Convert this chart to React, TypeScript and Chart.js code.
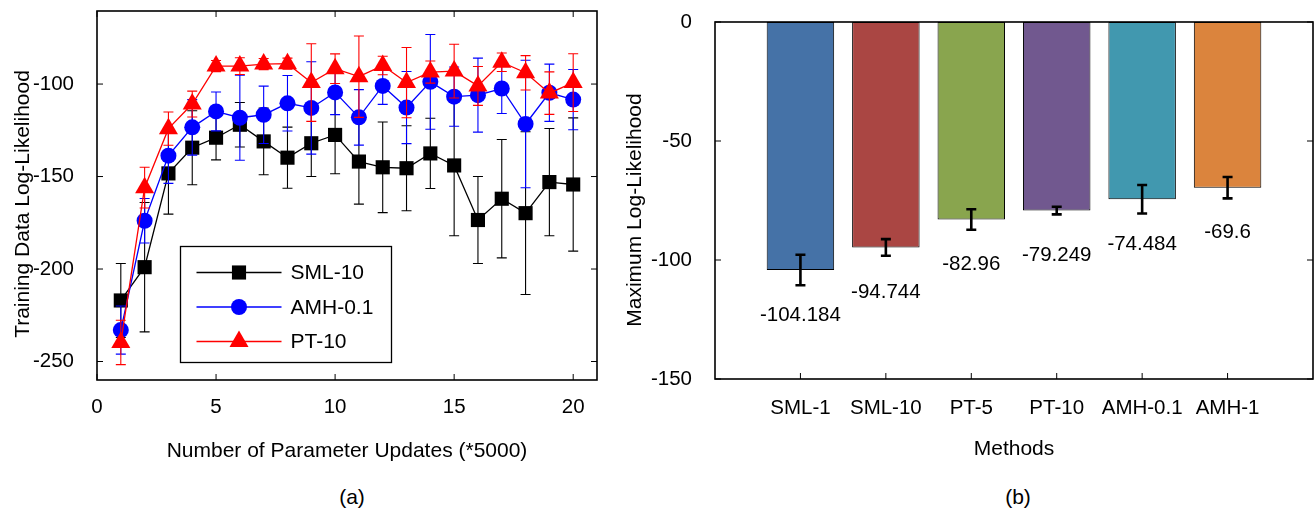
import React, { useEffect, useRef } from 'react';
import { Chart, registerables } from 'chart.js';

Chart.register(...registerables);

const FONT_FAMILY = '"Liberation Sans", Arial, Helvetica, sans-serif';
const TITLE_SIZE = 21;
const TICK_SIZE = 20.5;

// ---------- Panel (a) data ----------
const STEPS = [1, 2, 3, 4, 5, 6, 7, 8, 9, 10, 11, 12, 13, 14, 15, 16, 17, 18, 19, 20];
const SML10 = [-217, -199, -148.3, -134.4, -129, -122, -131, -139.8, -132, -127.5, -141.9, -145, -145.5, -137.5, -144, -173.5, -162, -169.8, -153, -154.3];
const SML10_ERR = [20, 35, 22, 20, 12, 12, 18, 16.5, 18, 21, 23, 24.5, 23, 19, 38, 23.5, 32, 44, 29, 36];
const AMH01 = [-233, -173.9, -138.7, -123.4, -114.8, -118.2, -116.6, -110.4, -112.9, -104.5, -118, -101, -112.7, -98.8, -106.8, -106, -102.4, -121.6, -104.7, -108.4];
const AMH01_ERR = [13, 12, 15, 15, 10.5, 23, 15.5, 15, 25, 12, 15, 10, 19.5, 25.6, 16, 20, 13.5, 34.5, 15.5, 16.3];
const PT10 = [-239.7, -156, -124.1, -110.8, -90.3, -90.3, -89.2, -89, -99.2, -91.7, -96, -90, -99.2, -93.5, -93, -101, -88.2, -93.9, -104.9, -99.2];
const PT10_ERR = [12, 11, 9, 7, 3, 4.5, 3, 3, 21, 8, 22, 5, 19, 6, 14.5, 10.5, 5, 9.3, 11.5, 15.6];
const A_X_TICKS = [0, 5, 10, 15, 20];
const A_Y_TICKS = [-250, -200, -150, -100];

// ---------- Panel (b) data ----------
const METHODS = ['SML-1', 'SML-10', 'PT-5', 'PT-10', 'AMH-0.1', 'AMH-1'];
const METHOD_POS = [1, 2, 3, 4, 5, 6];
const MAX_LL = [-104.184, -94.744, -82.96, -79.249, -74.484, -69.6];
const MAX_LL_ERR = [6.4, 3.5, 4.3, 1.6, 6, 4.5];
const BAR_COLORS = ['#4572A7', '#AA4643', '#89A54E', '#71588F', '#4198AF', '#DB843D'];
const B_Y_TICKS = [0, -50, -100, -150];

function font(size: number) {
  return { family: FONT_FAMILY, size, weight: 'normal' as const };
}

function drawMarker(ctx: CanvasRenderingContext2D, style: string, x: number, y: number, r: number, color: string) {
  ctx.fillStyle = color;
  ctx.beginPath();
  if (style === 'rect') {
    const s = r * Math.SQRT1_2;
    ctx.rect(x - s, y - s, 2 * s, 2 * s);
  } else if (style === 'triangle') {
    let a = 0;
    ctx.moveTo(x + Math.sin(a) * r, y - Math.cos(a) * r);
    a += (2 * Math.PI) / 3;
    ctx.lineTo(x + Math.sin(a) * r, y - Math.cos(a) * r);
    a += (2 * Math.PI) / 3;
    ctx.lineTo(x + Math.sin(a) * r, y - Math.cos(a) * r);
    ctx.closePath();
  } else {
    ctx.arc(x, y, r, 0, Math.PI * 2);
  }
  ctx.fill();
}

// Frame with inward ticks (gnuplot style)
const framePlugin = {
  id: 'frame',
  afterDraw(chart: any, _args: any, opts: any) {
    const { ctx, chartArea: a, scales } = chart;
    const L = 6;
    ctx.save();
    ctx.strokeStyle = '#000';
    ctx.lineWidth = 1;
    ctx.beginPath();
    for (const v of opts.xTicks || []) {
      const px = scales.x.getPixelForValue(v);
      ctx.moveTo(px, a.bottom);
      ctx.lineTo(px, a.bottom - L);
      if (opts.mirrorX) {
        ctx.moveTo(px, a.top);
        ctx.lineTo(px, a.top + L);
      }
    }
    for (const v of opts.yTicks || []) {
      const py = scales.y.getPixelForValue(v);
      ctx.moveTo(a.left, py);
      ctx.lineTo(a.left + L, py);
      if (opts.mirrorY) {
        ctx.moveTo(a.right, py);
        ctx.lineTo(a.right - L, py);
      }
    }
    ctx.stroke();
    ctx.lineWidth = 1.6;
    ctx.strokeRect(a.left, a.top, a.right - a.left, a.bottom - a.top);
    ctx.restore();
  },
};

function drawErrors(chart: any, index: number, meta: any, opts: any) {
  const ds = chart.data.datasets[index];
  const errs: number[] | undefined = ds.errors;
  if (!errs) return;
  const { ctx } = chart;
  const yScale = chart.scales.y;
  ctx.save();
  ctx.strokeStyle = opts.color || ds.borderColor;
  ctx.lineWidth = opts.lineWidth;
  const cap = opts.cap;
  meta.data.forEach((el: any, i: number) => {
    const v = ds.data[i].y;
    const top = yScale.getPixelForValue(v + errs[i]);
    const bot = yScale.getPixelForValue(v - errs[i]);
    const x = el.x;
    ctx.beginPath();
    ctx.moveTo(x, top);
    ctx.lineTo(x, bot);
    ctx.moveTo(x - cap, top);
    ctx.lineTo(x + cap, top);
    ctx.moveTo(x - cap, bot);
    ctx.lineTo(x + cap, bot);
    ctx.stroke();
  });
  ctx.restore();
}

const errorBarPlugin = {
  id: 'errorBars',
  beforeDatasetDraw(chart: any, args: any, opts: any) {
    if (!opts.above) drawErrors(chart, args.index, args.meta, opts);
  },
  afterDatasetDraw(chart: any, args: any, opts: any) {
    if (opts.above) drawErrors(chart, args.index, args.meta, opts);
  },
};

const boxLegendPlugin = {
  id: 'boxLegend',
  afterDraw(chart: any, _args: any, opts: any) {
    const { ctx } = chart;
    ctx.save();
    ctx.strokeStyle = '#000';
    ctx.lineWidth = 1.3;
    ctx.fillStyle = '#fff';
    ctx.fillRect(opts.x, opts.y, opts.w, opts.h);
    ctx.strokeRect(opts.x, opts.y, opts.w, opts.h);
    ctx.font = `${TITLE_SIZE}px ${FONT_FAMILY}`;
    ctx.textBaseline = 'middle';
    ctx.textAlign = 'left';
    chart.data.datasets.forEach((ds: any, i: number) => {
      const y = opts.y + opts.firstRow + i * opts.rowGap;
      ctx.strokeStyle = ds.borderColor;
      ctx.lineWidth = ds.borderWidth;
      ctx.beginPath();
      ctx.moveTo(opts.x + opts.lineStart, y);
      ctx.lineTo(opts.x + opts.lineEnd, y);
      ctx.stroke();
      drawMarker(ctx, ds.pointStyle, opts.x + (opts.lineStart + opts.lineEnd) / 2, y, ds.pointRadius, ds.borderColor);
      ctx.fillStyle = '#000';
      ctx.fillText(ds.label, opts.x + opts.textX, y + 1);
    });
    ctx.restore();
  },
};

const valueLabelPlugin = {
  id: 'valueLabels',
  afterDatasetsDraw(chart: any, _args: any, opts: any) {
    const { ctx } = chart;
    const meta = chart.getDatasetMeta(0);
    const ds = chart.data.datasets[0];
    const yScale = chart.scales.y;
    ctx.save();
    ctx.fillStyle = '#000';
    ctx.font = `${TICK_SIZE}px ${FONT_FAMILY}`;
    ctx.textAlign = 'center';
    ctx.textBaseline = 'middle';
    meta.data.forEach((el: any, i: number) => {
      const v = ds.data[i].y;
      ctx.fillText(String(v), el.x, yScale.getPixelForValue(v) + opts.offset);
    });
    ctx.restore();
  },
};

const yTitlePlugin = {
  id: 'yTitle',
  afterDraw(chart: any, _args: any, opts: any) {
    const { ctx } = chart;
    ctx.save();
    ctx.translate(opts.x, opts.y);
    ctx.rotate(-Math.PI / 2);
    ctx.fillStyle = '#000';
    ctx.font = `${TITLE_SIZE}px ${FONT_FAMILY}`;
    ctx.textAlign = 'center';
    ctx.textBaseline = 'middle';
    ctx.fillText(opts.text, 0, 0);
    ctx.restore();
  },
};

function zeroPad(scale: any) {
  scale.paddingTop = 0;
  scale.paddingBottom = 0;
  scale.paddingLeft = 0;
  scale.paddingRight = 0;
}

function LinePanel() {
  const ref = useRef<HTMLCanvasElement | null>(null);
  useEffect(() => {
    if (!ref.current) return;
    const mk = (arr: number[]) => STEPS.map((s, i) => ({ x: s, y: arr[i] }));
    const chart = new Chart(ref.current, {
      type: 'line',
      data: {
        datasets: [
          {
            label: 'SML-10', data: mk(SML10), errors: SML10_ERR,
            borderColor: '#000000', backgroundColor: '#000000', borderWidth: 1.3,
            pointStyle: 'rect', pointRadius: 10, pointBorderWidth: 0, order: 2,
          } as any,
          {
            label: 'AMH-0.1', data: mk(AMH01), errors: AMH01_ERR,
            borderColor: '#0000FF', backgroundColor: '#0000FF', borderWidth: 1.3,
            pointStyle: 'circle', pointRadius: 8, pointBorderWidth: 0, order: 1,
          } as any,
          {
            label: 'PT-10', data: mk(PT10), errors: PT10_ERR,
            borderColor: '#FF0000', backgroundColor: '#FF0000', borderWidth: 1.3,
            pointStyle: 'triangle', pointRadius: 11, pointBorderWidth: 0, order: 0,
          } as any,
        ],
      },
      options: {
        animation: false,
        responsive: false,
        events: [],
        layout: { padding: { top: 7, right: 13, left: 0, bottom: 0 } },
        plugins: {
          legend: { display: false },
          tooltip: { enabled: false },
          frame: { xTicks: A_X_TICKS, yTicks: A_Y_TICKS, mirrorX: true, mirrorY: true },
          errorBars: { above: false, lineWidth: 1.1, cap: 5 },
          boxLegend: { x: 180.5, y: 246.5, w: 211, h: 116, firstRow: 26, rowGap: 34.5, lineStart: 16, lineEnd: 101, textX: 110 },
          yTitle: { text: 'Training Data Log-Likelihood', x: 23, y: 204 },
        } as any,
        scales: {
          x: {
            type: 'linear', min: 0, max: 21,
            grid: { display: false }, border: { display: false },
            afterBuildTicks: (s: any) => { s.ticks = A_X_TICKS.map((v) => ({ value: v })); },
            afterFit: (s: any) => { s.height = 90; zeroPad(s); },
            ticks: { color: '#000', font: font(TICK_SIZE), padding: 7, maxRotation: 0, autoSkip: false },
            title: { display: true, text: 'Number of Parameter Updates (*5000)', color: '#000', font: font(TITLE_SIZE), padding: { top: 0, bottom: 6 } },
          },
          y: {
            type: 'linear', min: -260, max: -60.5,
            grid: { display: false }, border: { display: false },
            afterBuildTicks: (s: any) => { s.ticks = A_Y_TICKS.map((v) => ({ value: v })); },
            afterFit: (s: any) => { s.width = 97; zeroPad(s); },
            ticks: { color: '#000', font: font(TICK_SIZE), padding: 15 },
          },
        },
      } as any,
      plugins: [errorBarPlugin, framePlugin, boxLegendPlugin, yTitlePlugin] as any,
    });
    return () => chart.destroy();
  }, []);
  return <canvas ref={ref} width={610} height={470} style={{ position: 'absolute', left: 0, top: 0 }} />;
}

function BarPanel() {
  const ref = useRef<HTMLCanvasElement | null>(null);
  useEffect(() => {
    if (!ref.current) return;
    const chart = new Chart(ref.current, {
      type: 'bar',
      data: {
        datasets: [
          {
            label: 'Maximum Log-Likelihood',
            data: METHOD_POS.map((x, i) => ({ x, y: MAX_LL[i] })),
            errors: MAX_LL_ERR,
            backgroundColor: BAR_COLORS,
            borderColor: '#000000',
            borderWidth: 1,
            borderSkipped: false,
            barPercentage: 0.79,
            categoryPercentage: 1,
          } as any,
        ],
      },
      options: {
        animation: false,
        responsive: false,
        events: [],
        layout: { padding: { top: 22, right: 3, left: 0, bottom: 0 } },
        plugins: {
          legend: { display: false },
          tooltip: { enabled: false },
          frame: { xTicks: METHOD_POS, yTicks: B_Y_TICKS, mirrorX: false, mirrorY: true },
          errorBars: { above: true, lineWidth: 2.6, cap: 5, color: '#000' },
          valueLabels: { offset: 45 },
          yTitle: { text: 'Maximum Log-Likelihood', x: 25, y: 210 },
        } as any,
        scales: {
          x: {
            type: 'linear', min: 0, max: 7, offset: false,
            grid: { display: false, offset: false }, border: { display: false },
            afterBuildTicks: (s: any) => { s.ticks = METHOD_POS.map((v) => ({ value: v })); },
            afterFit: (s: any) => { s.height = 91; zeroPad(s); },
            ticks: {
              color: '#000', font: font(TICK_SIZE), padding: 9, maxRotation: 0, autoSkip: false,
              callback: (v: any) => { const k = METHOD_POS.indexOf(Number(v)); return k >= 0 ? METHODS[k] : ''; },
            },
            title: { display: true, text: 'Methods', color: '#000', font: font(TITLE_SIZE), padding: { top: 0, bottom: 8 } },
          },
          y: {
            type: 'linear', min: -150, max: 0,
            grid: { display: false }, border: { display: false },
            afterBuildTicks: (s: any) => { s.ticks = B_Y_TICKS.map((v) => ({ value: v })); },
            afterFit: (s: any) => { s.width = 105; zeroPad(s); },
            ticks: { color: '#000', font: font(TICK_SIZE), padding: 15 },
          },
        },
      } as any,
      plugins: [errorBarPlugin, framePlugin, valueLabelPlugin, yTitlePlugin] as any,
    });
    return () => chart.destroy();
  }, []);
  return <canvas ref={ref} width={706} height={470} style={{ position: 'absolute', left: 610, top: 0 }} />;
}

const captionStyle = (cx: number): React.CSSProperties => ({
  position: 'absolute',
  left: cx - 50,
  width: 100,
  top: 485,
  textAlign: 'center',
  fontFamily: FONT_FAMILY,
  fontSize: TITLE_SIZE,
  lineHeight: '24px',
  color: '#000',
});

export default function App() {
  return (
    <div style={{ position: 'fixed', left: 0, top: 0, width: 1316, height: 512, background: '#fff', overflow: 'hidden' }}>
      <LinePanel />
      <BarPanel />
      <div style={captionStyle(352)}>(a)</div>
      <div style={captionStyle(1018)}>(b)</div>
    </div>
  );
}
